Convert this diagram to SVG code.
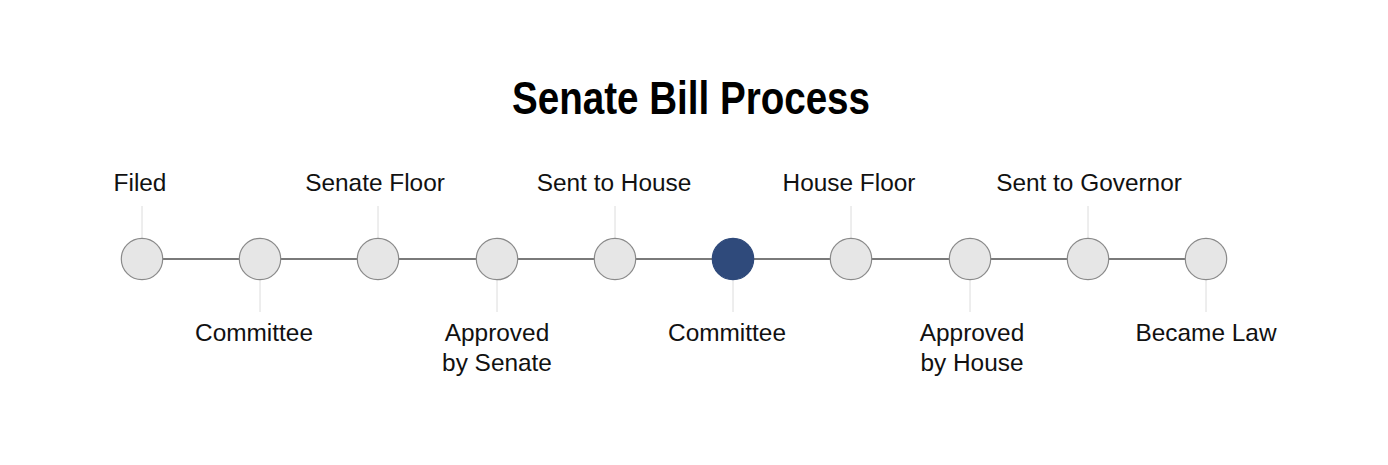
<svg xmlns="http://www.w3.org/2000/svg" width="1388" height="465" viewBox="0 0 1388 465">
<style>
.title{font-family:"Liberation Sans",Arial,sans-serif;font-weight:bold;font-size:46px;fill:#000}
.lbl{font-family:"Liberation Sans",Arial,sans-serif;font-size:24.4px;fill:#111;text-anchor:middle}
.node{fill:#e6e6e6;stroke:#8a8a8a;stroke-width:1.2}
.active{fill:#2f4a7b;stroke:#2f4a7b;stroke-width:1.2}
.stem{stroke:#dcdcdc;stroke-width:1}
.link{stroke:#7a7a7a;stroke-width:2}
</style>
<rect width="1388" height="465" fill="#fff"/>
<text class="title" x="691" y="114" text-anchor="middle" textLength="358" lengthAdjust="spacingAndGlyphs">Senate Bill Process</text>
<g id="connectors">
<line class="link" x1="142" y1="259" x2="1206" y2="259"/>
<line class="stem" x1="142" y1="206" x2="142" y2="238"/>
<line class="stem" x1="260" y1="280" x2="260" y2="312"/>
<line class="stem" x1="378" y1="206" x2="378" y2="238"/>
<line class="stem" x1="497" y1="280" x2="497" y2="312"/>
<line class="stem" x1="615" y1="206" x2="615" y2="238"/>
<line class="stem" x1="733" y1="280" x2="733" y2="312"/>
<line class="stem" x1="851" y1="206" x2="851" y2="238"/>
<line class="stem" x1="970" y1="280" x2="970" y2="312"/>
<line class="stem" x1="1088" y1="206" x2="1088" y2="238"/>
<line class="stem" x1="1206" y1="280" x2="1206" y2="312"/>
</g>
<g id="n1"><circle class="node" cx="142" cy="259" r="20.7"/><text class="lbl" x="140" y="191">Filed</text></g>
<g id="n2"><circle class="node" cx="260" cy="259" r="20.7"/><text class="lbl" x="254" y="341">Committee</text></g>
<g id="n3"><circle class="node" cx="378" cy="259" r="20.7"/><text class="lbl" x="375" y="191">Senate Floor</text></g>
<g id="n4"><circle class="node" cx="497" cy="259" r="20.7"/><text class="lbl" x="497" y="341">Approved</text><text class="lbl" x="497" y="371">by Senate</text></g>
<g id="n5"><circle class="node" cx="615" cy="259" r="20.7"/><text class="lbl" x="614" y="191">Sent to House</text></g>
<g id="n6"><circle class="active" cx="733" cy="259" r="20.7"/><text class="lbl" x="727" y="341">Committee</text></g>
<g id="n7"><circle class="node" cx="851" cy="259" r="20.7"/><text class="lbl" x="849" y="191">House Floor</text></g>
<g id="n8"><circle class="node" cx="970" cy="259" r="20.7"/><text class="lbl" x="972" y="341">Approved</text><text class="lbl" x="972" y="371">by House</text></g>
<g id="n9"><circle class="node" cx="1088" cy="259" r="20.7"/><text class="lbl" x="1089" y="191">Sent to Governor</text></g>
<g id="n10"><circle class="node" cx="1206" cy="259" r="20.7"/><text class="lbl" x="1206" y="341">Became Law</text></g>
</svg>
